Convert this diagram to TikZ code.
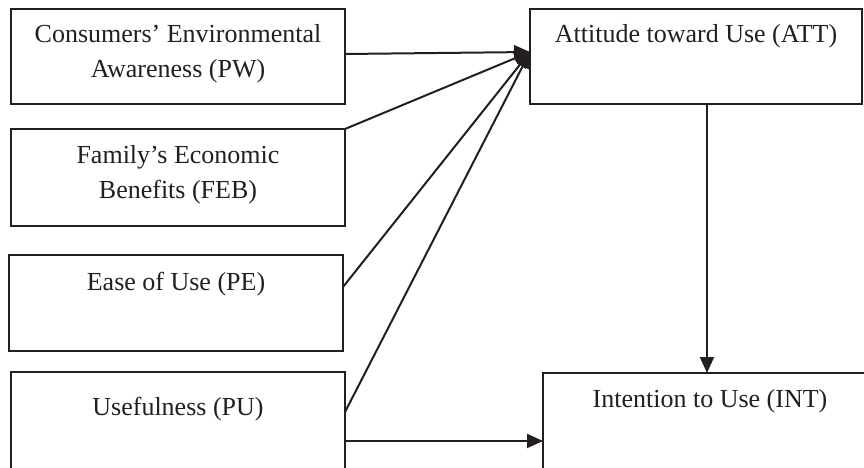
\documentclass[tikz,border=0pt]{standalone}
\usepackage{fontspec}
\setmainfont{Liberation Serif}
\usetikzlibrary{arrows.meta,calc}
\definecolor{ink}{RGB}{35,31,32}
\tikzset{
  box/.style={draw=ink, line width=1.4pt, rectangle, inner sep=0pt, outer sep=0pt, anchor=north west},
  lbl/.style={text=ink, inner sep=0pt, align=center, anchor=north, font=\fontsize{26}{35}\selectfont},
  arr/.style={draw=ink, line width=2pt, -{Triangle[length=16pt,width=14pt]}},
}
\begin{document}
\begin{tikzpicture}[x=1pt,y=-1pt]
\useasboundingbox (0,0) rectangle (864,468);
\clip (0,0) rectangle (864,468);
\fill[white] (0,0) rectangle (864,468);
% boxes
\node[box, minimum width=334pt, minimum height=95pt] (pw) at (11,9) {};
\node[box, minimum width=334pt, minimum height=97pt] (feb) at (11,129) {};
\node[box, minimum width=334pt, minimum height=96pt] (pe) at (9,255) {};
\node[box, minimum width=334pt, minimum height=98pt] (pu) at (11,372) {};
\node[box, minimum width=332pt, minimum height=95pt] (att) at (530,9) {};
\node[box, minimum width=340pt, minimum height=110pt] (int) at (543,373) {};
% labels
\node[lbl] (tpw) at (178,24) {Consumers’ Environmental\\Awareness (PW)};
\node[lbl] (tfeb) at (178,145) {Family’s Economic\\Benefits (FEB)};
\node[lbl] (tpe) at (176,272) {Ease of Use (PE)};
\node[lbl] (tpu) at (178,397) {Usefulness (PU)};
\node[lbl] (tatt) at (696,24) {Attitude toward Use (ATT)};
\node[lbl] (tint) at (710,389) {Intention to Use (INT)};
% connectors
\coordinate (tip) at ([yshift=4.5pt]att.west);
\draw[arr] ([yshift=2.5pt]pw.east) -- (tip);
\draw[arr] (feb.north east) -- (tip);
\draw[arr] ([yshift=16pt]pe.east) -- (tip);
\draw[arr] ([yshift=9pt]pu.east) -- (tip);
\draw[arr] ([xshift=11pt]att.south) coordinate (b) -- (b |- int.north);
\draw[arr] ([yshift=-20pt]pu.east) coordinate (a) -- (a -| int.west);
\end{tikzpicture}
\end{document}
